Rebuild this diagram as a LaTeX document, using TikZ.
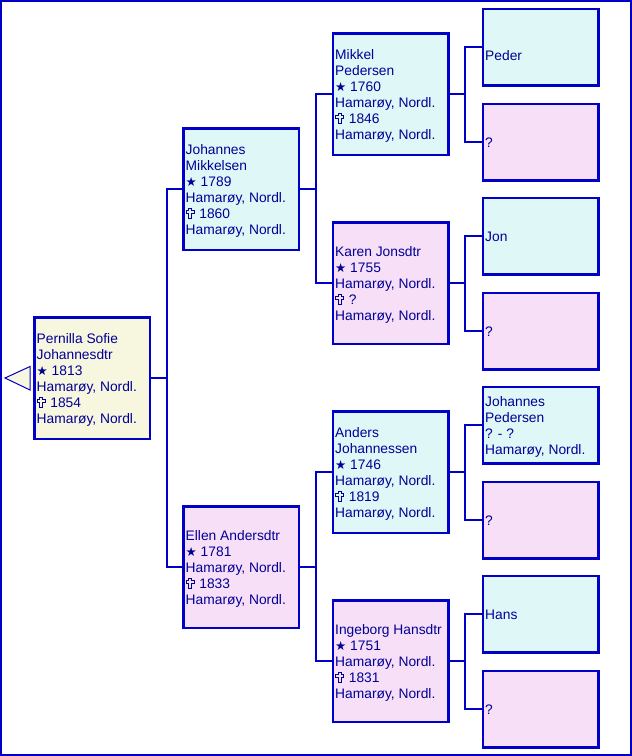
\documentclass[tikz,border=0pt]{standalone}
\usepackage{fontspec}
\setmainfont{Liberation Sans}
\newfontfamily\symfont{DejaVu Sans}
\definecolor{bd}{RGB}{0,0,200}
\definecolor{tx}{RGB}{0,0,150}
\definecolor{cy}{RGB}{223,247,247}
\definecolor{pk}{RGB}{247,223,247}
\definecolor{bg}{RGB}{247,247,223}
\newcommand{\bstar}{{\symfont\fontsize{12.5}{16}\selectfont ★}}
\newcommand{\dcross}{\tikz[x=1pt,y=1pt,baseline=0pt,line width=0.85pt,draw=tx]
  \draw (2.5,0) -- (5.5,0) -- (5.5,5) -- (8,5) -- (8,7.8) -- (5.5,7.8) -- (5.5,10.5)
  -- (2.5,10.5) -- (2.5,7.8) -- (0,7.8) -- (0,5) -- (2.5,5) -- cycle;\hspace{1pt}}
\begin{document}
\begin{tikzpicture}[x=1pt,y=-1pt,
  pbox/.style={draw=bd, line width=2.5pt, rectangle, minimum width=115.5pt, inner sep=0pt},
  big/.style={pbox, minimum height=121.5pt},
  small/.style={pbox, minimum height=76.5pt},
  txt/.style={text=tx, inner sep=0pt, align=left, anchor=west,
    font=\fontsize{13.8}{16}\selectfont},
  conn/.style={draw=bd, line width=2.5pt}]
\useasboundingbox (0,0) rectangle (632,756);
\draw[draw=bd, line width=2pt] (1,1) rectangle (631,755);
% navigation triangle
\draw[draw=bd, fill=bg, line width=1pt] (5,378) -- (30,366.5) -- (30,390) -- cycle;
% root
\node[big, fill=bg] (root) at (92,378) {};
\node[txt] (roott) at ([xshift=3.5pt,yshift=-2pt]root.west) {Pernilla Sofie\\Johannesdtr\\\bstar\ 1813\\Hamarøy, Nordl.\\\dcross\ 1854\\Hamarøy, Nordl.};
% generation 1
\node[big, fill=cy] (f) at (241,189) {};
\node[txt] (ft) at ([xshift=3.5pt,yshift=-2pt]f.west) {Johannes\\Mikkelsen\\\bstar\ 1789\\Hamarøy, Nordl.\\\dcross\ 1860\\Hamarøy, Nordl.};
\node[big, fill=pk] (m) at (241,567) {};
\node[txt] (mt) at ([xshift=3.5pt,yshift=-2pt]m.west) {Ellen Andersdtr\\\bstar\ 1781\\Hamarøy, Nordl.\\\dcross\ 1833\\Hamarøy, Nordl.};
% generation 2
\node[big, fill=cy] (ff) at (390.5,94) {};
\node[txt] (fft) at ([xshift=3.5pt,yshift=-2pt]ff.west) {Mikkel\\Pedersen\\\bstar\ 1760\\Hamarøy, Nordl.\\\dcross\ 1846\\Hamarøy, Nordl.};
\node[big, fill=pk] (fm) at (390.5,283) {};
\node[txt] (fmt) at ([xshift=3.5pt,yshift=-2pt]fm.west) {Karen Jonsdtr\\\bstar\ 1755\\Hamarøy, Nordl.\\\dcross\ ?\\Hamarøy, Nordl.};
\node[big, fill=cy] (mf) at (390.5,472) {};
\node[txt] (mft) at ([xshift=3.5pt,yshift=-2pt]mf.west) {Anders\\Johannessen\\\bstar\ 1746\\Hamarøy, Nordl.\\\dcross\ 1819\\Hamarøy, Nordl.};
\node[big, fill=pk] (mm) at (390.5,661) {};
\node[txt] (mmt) at ([xshift=3.5pt,yshift=-2pt]mm.west) {Ingeborg Hansdtr\\\bstar\ 1751\\Hamarøy, Nordl.\\\dcross\ 1831\\Hamarøy, Nordl.};
% generation 3
\node[small, fill=cy] (fff) at (540.5,47) {};
\node[txt] (ffft) at ([xshift=3.5pt,yshift=-8.5pt]fff.west) {Peder};
\node[small, fill=pk] (ffm) at (540.5,142) {};
\node[txt] (ffmt) at ([xshift=3.5pt,yshift=-1pt]ffm.west) {?};
\node[small, fill=cy] (fmf) at (540.5,236) {};
\node[txt] (fmft) at ([xshift=3.5pt,yshift=-1pt]fmf.west) {Jon};
\node[small, fill=pk] (fmm) at (540.5,331) {};
\node[txt] (fmmt) at ([xshift=3.5pt,yshift=-1pt]fmm.west) {?};
\node[small, fill=cy] (mff) at (540.5,425) {};
\node[txt] (mfft) at ([xshift=3.5pt,yshift=-2pt]mff.west) {Johannes\\Pedersen\\? - ?\\Hamarøy, Nordl.};
\node[small, fill=pk] (mfm) at (540.5,520) {};
\node[txt] (mfmt) at ([xshift=3.5pt,yshift=-1pt]mfm.west) {?};
\node[small, fill=cy] (mmf) at (540.5,614) {};
\node[txt] (mmft) at ([xshift=3.5pt,yshift=-1pt]mmf.west) {Hans};
\node[small, fill=pk] (mmm) at (540.5,709) {};
\node[txt] (mmmt) at ([xshift=3.5pt,yshift=-1pt]mmm.west) {?};
% junction coordinates
\coordinate (j0) at (167,378);
\coordinate (j1) at (316,189);
\coordinate (j2) at (316,567);
\coordinate (k1) at (465,94);
\coordinate (k2) at (465,283);
\coordinate (k3) at (465,472);
\coordinate (k4) at (465,661);
% connectors
\draw[conn] (root.east) -- (j0);
\draw[conn] (f.west) -| (j0) |- (m.west);
\draw[conn] (f.east) -- (j1);
\draw[conn] (ff.west) -| (j1) |- (fm.west);
\draw[conn] (m.east) -- (j2);
\draw[conn] (mf.west) -| (j2) |- (mm.west);
\draw[conn] (ff.east) -- (k1);
\draw[conn] (fff.west) -| (k1) |- (ffm.west);
\draw[conn] (fm.east) -- (k2);
\draw[conn] (fmf.west) -| (k2) |- (fmm.west);
\draw[conn] (mf.east) -- (k3);
\draw[conn] (mff.west) -| (k3) |- (mfm.west);
\draw[conn] (mm.east) -- (k4);
\draw[conn] (mmf.west) -| (k4) |- (mmm.west);
\end{tikzpicture}
\end{document}
